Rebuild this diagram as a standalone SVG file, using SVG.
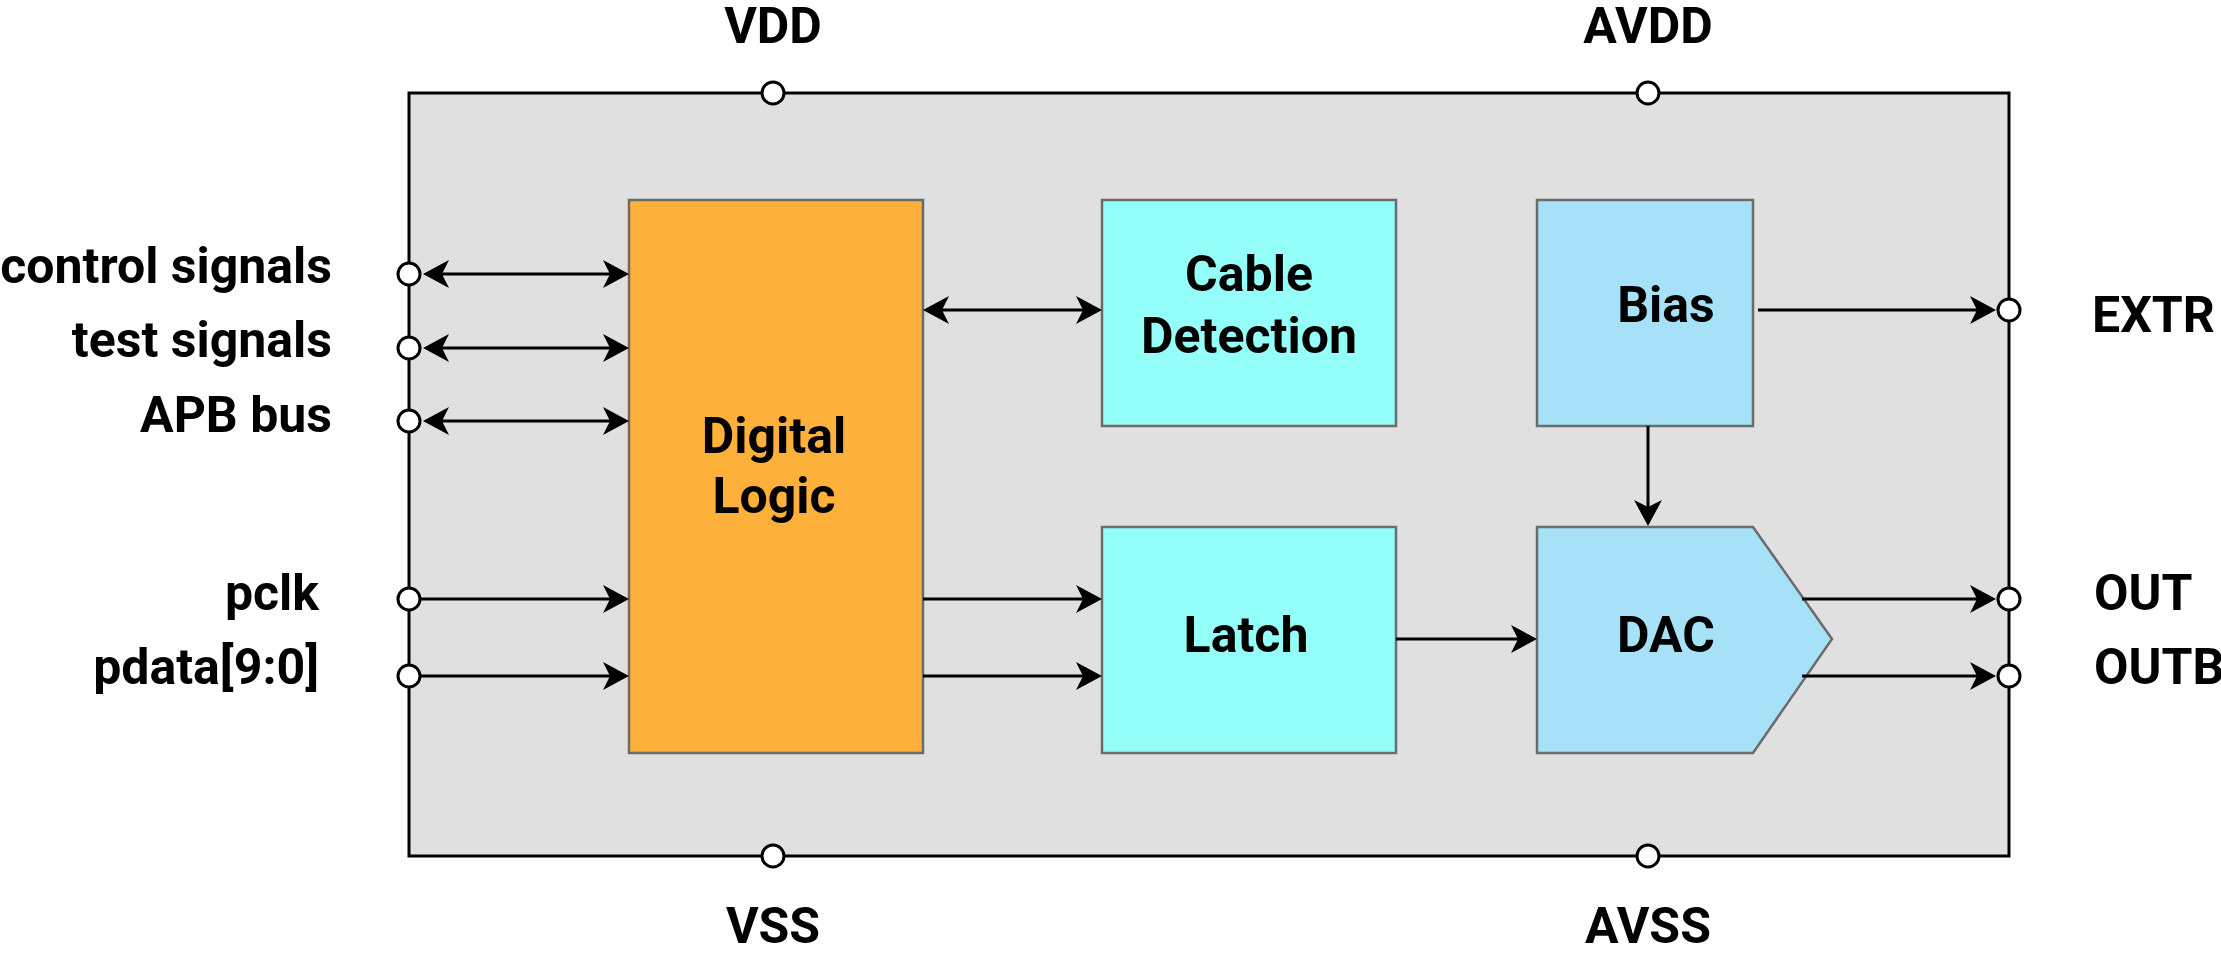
<svg xmlns="http://www.w3.org/2000/svg" width="2221" height="959" viewBox="0 0 2221 959">
<style>
.t{font-family:Roboto,"Liberation Sans",sans-serif;font-weight:bold;font-size:50px;fill:#000}
.m{text-anchor:middle}
.e{text-anchor:end}
.blk{stroke:#6b6b6b;stroke-width:2.5}
.c{stroke:#000;stroke-width:3;fill:none}
.pin{fill:#fff;stroke:#000;stroke-width:3}
</style>
<defs>
<marker id="ah" viewBox="0 0 26 28" refX="18" refY="14" markerWidth="26" markerHeight="28" markerUnits="userSpaceOnUse" orient="auto-start-reverse">
<path d="M26,14 L0,0 L7,14 L0,28 Z" fill="#000"/>
</marker>
</defs>
<rect width="2221" height="959" fill="#fff"/>
<g id="chip">
<rect x="409" y="93" width="1600" height="763" fill="#e0e0e0" stroke="#000" stroke-width="3"/>
</g>
<g id="digital-logic">
<rect class="blk" x="629" y="200" width="294" height="553" fill="#fdb03a"/>
<text class="t m" x="774" y="453">Digital</text>
<text class="t m" x="774" y="513">Logic</text>
</g>
<g id="cable-detection">
<rect class="blk" x="1102" y="200" width="294" height="226" fill="#94fff8"/>
<text class="t m" x="1249" y="291">Cable</text>
<text class="t m" x="1249" y="353">Detection</text>
</g>
<g id="bias">
<rect class="blk" x="1537" y="200" width="216" height="226" fill="#a6e1f8"/>
<text class="t m" x="1666" y="322">Bias</text>
</g>
<g id="latch">
<rect class="blk" x="1102" y="527" width="294" height="226" fill="#94fff8"/>
<text class="t m" x="1246" y="652">Latch</text>
</g>
<g id="dac">
<path class="blk" d="M1537,527 L1753,527 L1832,639 L1753,753 L1537,753 Z" fill="#a6e1f8"/>
<text class="t m" x="1666" y="652">DAC</text>
</g>
<g id="connectors">
<line class="c" x1="431" y1="274" x2="621" y2="274" marker-start="url(#ah)" marker-end="url(#ah)"/>
<line class="c" x1="431" y1="348" x2="621" y2="348" marker-start="url(#ah)" marker-end="url(#ah)"/>
<line class="c" x1="431" y1="421" x2="621" y2="421" marker-start="url(#ah)" marker-end="url(#ah)"/>
<line class="c" x1="420" y1="599" x2="621" y2="599" marker-end="url(#ah)"/>
<line class="c" x1="420" y1="676" x2="621" y2="676" marker-end="url(#ah)"/>
<line class="c" x1="931" y1="310" x2="1094" y2="310" marker-start="url(#ah)" marker-end="url(#ah)"/>
<line class="c" x1="923" y1="599" x2="1094" y2="599" marker-end="url(#ah)"/>
<line class="c" x1="923" y1="676" x2="1094" y2="676" marker-end="url(#ah)"/>
<line class="c" x1="1396" y1="639" x2="1529" y2="639" marker-end="url(#ah)"/>
<line class="c" x1="1758" y1="310" x2="1988" y2="310" marker-end="url(#ah)"/>
<line class="c" x1="1648" y1="426" x2="1648" y2="518" marker-end="url(#ah)"/>
<line class="c" x1="1802" y1="599" x2="1988" y2="599" marker-end="url(#ah)"/>
<line class="c" x1="1802" y1="676" x2="1988" y2="676" marker-end="url(#ah)"/>
</g>
<g id="pins">
<circle class="pin" cx="773" cy="93" r="11"/>
<circle class="pin" cx="1648" cy="93" r="11"/>
<circle class="pin" cx="773" cy="856" r="11"/>
<circle class="pin" cx="1648" cy="856" r="11"/>
<circle class="pin" cx="409" cy="274" r="11"/>
<circle class="pin" cx="409" cy="348" r="11"/>
<circle class="pin" cx="409" cy="421" r="11"/>
<circle class="pin" cx="409" cy="599" r="11"/>
<circle class="pin" cx="409" cy="676" r="11"/>
<circle class="pin" cx="2009" cy="310" r="11"/>
<circle class="pin" cx="2009" cy="599" r="11"/>
<circle class="pin" cx="2009" cy="676" r="11"/>
</g>
<g id="labels">
<text class="t m" x="773" y="43">VDD</text>
<text class="t m" x="1648" y="43">AVDD</text>
<text class="t m" x="773" y="943">VSS</text>
<text class="t m" x="1648" y="943">AVSS</text>
<text class="t e" x="332" y="283">control signals</text>
<text class="t e" x="332" y="357">test signals</text>
<text class="t e" x="332" y="432">APB bus</text>
<text class="t e" x="319" y="610">pclk</text>
<text class="t e" x="319" y="684">pdata[9:0]</text>
<text class="t" x="2092" y="332">EXTR</text>
<text class="t" x="2094" y="610">OUT</text>
<text class="t" x="2094" y="684">OUTB</text>
</g>
</svg>
